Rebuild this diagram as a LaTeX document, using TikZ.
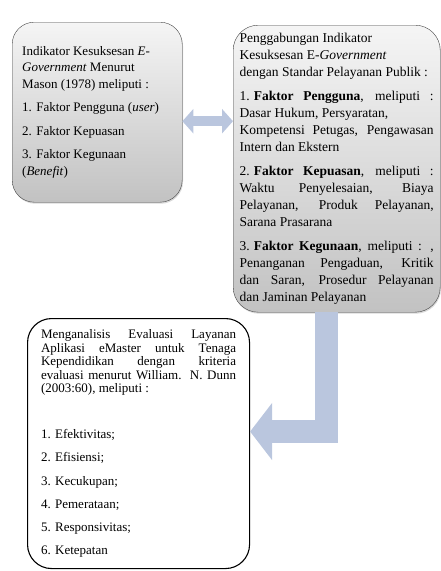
\documentclass[tikz,border=0pt]{standalone}
\usepackage{fontspec}
\setmainfont{Liberation Serif}
\usetikzlibrary{arrows.meta,shadows}
\definecolor{arrowblue}{RGB}{186,198,222}
\begin{document}
\begin{tikzpicture}[
    x=1pt, y=1pt,
    box/.style={
        rectangle,
        rounded corners=22pt,
        draw=gray!55!black,
        top color=gray!8,
        bottom color=gray!48,
        drop shadow={opacity=0.3, shadow xshift=0.8pt, shadow yshift=-1.5pt},
        anchor=north west,
        align=justify,
        font=\fontsize{13}{16.5}\selectfont,
        inner ysep=4pt
    },
    evalbox/.style={
        rectangle,
        rounded corners=24pt,
        draw=black,
        line width=1.1pt,
        fill=white,
        anchor=north west,
        align=justify,
        font=\fontsize{13}{13.5}\selectfont,
        inner ysep=4pt
    },
    dblarrow/.style={line width=10pt, draw=arrowblue,
        arrows={Triangle[width=24pt,length=11pt]-Triangle[width=24pt,length=11pt]}},
    bendarrow/.style={line width=23pt, draw=arrowblue,
        arrows={-Triangle[width=56pt,length=22pt]}}
]
\useasboundingbox (0,0) rectangle (441,-571);

\node[box, minimum width=170pt, minimum height=180pt, text width=150pt, inner xsep=10pt] (mason) at (12,-22) {
Indikator Kesuksesan \textit{E-}\\
\textit{Government} Menurut\\
Mason (1978) meliputi :\\[7pt]
1. Faktor Pengguna (\textit{user})\\[7pt]
2. Faktor Kepuasan\\[7pt]
3. Faktor Kegunaan\\
(\textit{Benefit})
};

\node[box, rounded corners=25pt, minimum width=207pt, minimum height=287pt, text width=194pt, inner xsep=6.5pt, font=\fontsize{13.5}{17}\selectfont] (gabung) at (233,-25) {
Penggabungan Indikator\\
Kesuksesan E-\textit{Government}\\
dengan Standar Pelayanan Publik :\\[7pt]
1.\hspace{0.3em}\textbf{Faktor Pengguna}, meliputi : \linebreak
Dasar Hukum, Persyaratan,\\
Kompetensi Petugas, Pengawasan \linebreak
Intern dan Ekstern\\[7pt]
2.\hspace{0.3em}\textbf{Faktor Kepuasan}, meliputi : \linebreak
Waktu Penyelesaian, Biaya \linebreak
Pelayanan, Produk Pelayanan, \linebreak
Sarana Prasarana\\[7pt]
3.\hspace{0.3em}\textbf{Faktor Kegunaan}, meliputi : , \linebreak
Penanganan Pengaduan, Kritik \linebreak
dan Saran, Prosedur Pelayanan \linebreak
dan Jaminan Pelayanan
};

\node[evalbox, minimum width=222pt, minimum height=250pt, text width=195pt, inner xsep=13.5pt] (dunn) at (27,-318) {
Menganalisis Evaluasi Layanan \linebreak
Aplikasi eMaster untuk Tenaga \linebreak
Kependidikan dengan kriteria \linebreak
evaluasi menurut William. N. Dunn \linebreak
(2003:60), meliputi :\\[32.5pt]
1. Efektivitas;\\[9.7pt]
2. Efisiensi;\\[9.7pt]
3. Kecukupan;\\[9.7pt]
4. Pemerataan;\\[9.7pt]
5. Responsivitas;\\[9.7pt]
6. Ketepatan
};

\draw[dblarrow] ([yshift=-9pt]mason.east) -- ([yshift=-9pt]mason.east -| gabung.west);
\draw[bendarrow] ([xshift=-10pt]gabung.south) |- ([yshift=12pt]dunn.east);

\end{tikzpicture}
\end{document}
